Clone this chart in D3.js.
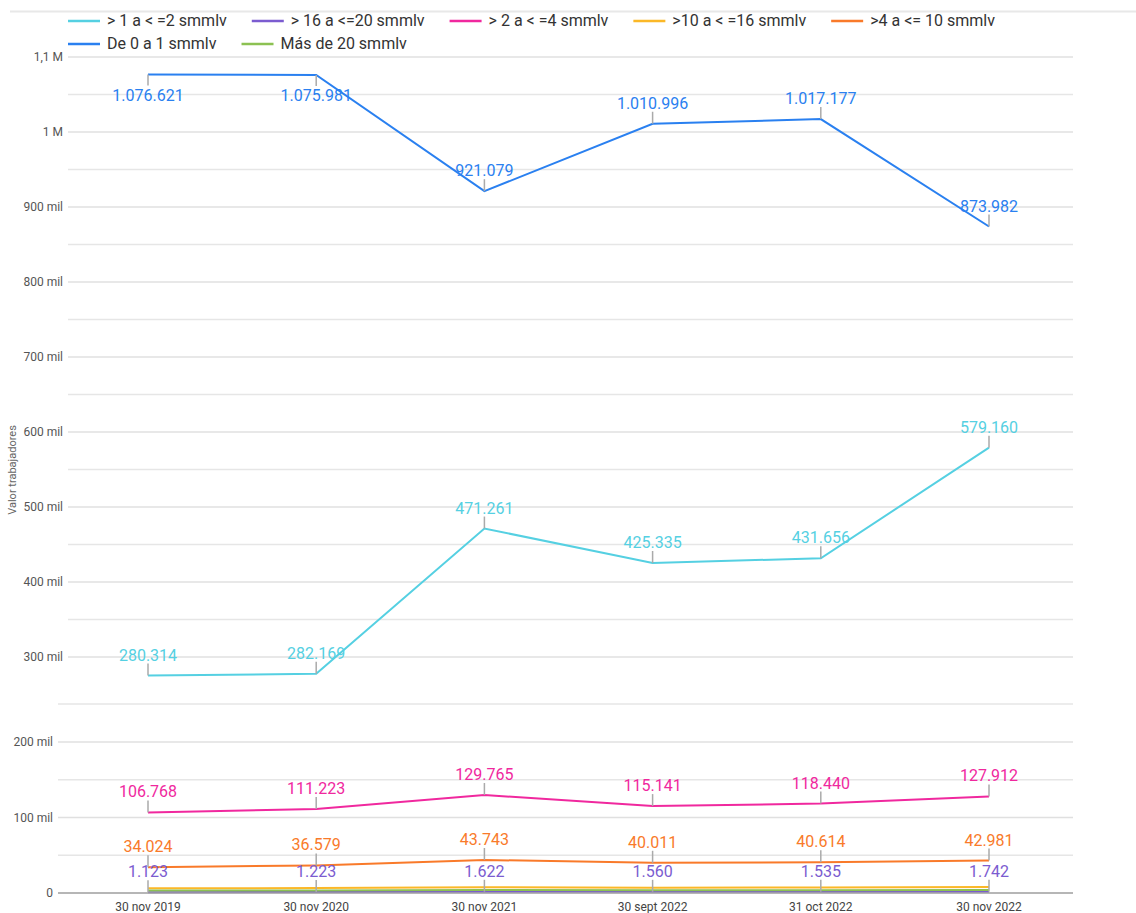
<!DOCTYPE html>
<html>
<head>
<meta charset="utf-8">
<script src="https://cdn.jsdelivr.net/npm/d3@7"></script>
<style>
    body { margin: 0; background: #fff; }
    svg { display: block; font-family: Roboto, "Noto Sans", sans-serif; }
</style>
</head>
<body>
<svg id="chart" width="1136" height="913"></svg>
<script>
// data
var categories = ["30 nov 2019", "30 nov 2020", "30 nov 2021", "30 sept 2022", "31 oct 2022", "30 nov 2022"];

var seriesNames = ["> 1 a < =2 smmlv", "> 16 a <=20 smmlv", "> 2 a < =4 smmlv", ">10 a < =16 smmlv",
		   ">4 a <= 10 smmlv", "De 0 a 1 smmlv", "Más de 20 smmlv"];
var seriesColors = ["#55d0e2", "#7b5cd0", "#f0289e", "#fbb827", "#f97a2a", "#2a80f0", "#8cc152"];

var de1a2 = [280314, 282169, 471261, 425335, 431656, 579160];
var de16a20 = [1123, 1223, 1622, 1560, 1535, 1742];
var de2a4 = [106768, 111223, 129765, 115141, 118440, 127912];
var de10a16 = [6200, 6500, 7600, 7100, 7200, 7800];   // no labels shown, estimated
var de4a10 = [34024, 36579, 43743, 40011, 40614, 42981];
var de0a1 = [1076621, 1075981, 921079, 1010996, 1017177, 873982];
var mas20 = [3300, 3400, 3900, 3700, 3700, 4000];     // no labels shown, estimated

var seriesValues = [de1a2, de16a20, de2a4, de10a16, de4a10, de0a1, mas20];
var labeledSeries = ["> 1 a < =2 smmlv", "> 16 a <=20 smmlv", "> 2 a < =4 smmlv", ">4 a <= 10 smmlv", "De 0 a 1 smmlv"];

var yTicks = [0, 100000, 200000, 300000, 400000, 500000, 600000, 700000, 800000, 900000, 1000000, 1100000];
var yTickLabels = ["0", "100 mil", "200 mil", "300 mil", "400 mil", "500 mil", "600 mil", "700 mil",
		   "800 mil", "900 mil", "1 M", "1,1 M"];
var yMinorTicks = [50000, 150000, 250000, 350000, 450000, 550000, 650000, 750000, 850000, 950000, 1050000];

var svg = d3.select("#chart");
var plotTop = 57, plotBottom = 893, plotRight = 1073;

// the reference axis is not uniform between 200 mil and 300 mil, so the scale is piecewise
var y = d3.scaleLinear()
    .domain([0, 200000, 250000, 300000, 1100000])
    .range([893, 742, 704, 657, plotTop]);
var x = d3.scalePoint().domain(categories).range([148, 989]);

var es = d3.formatLocale({decimal: ",", thousands: ".", grouping: [3], currency: ["", ""]});
var fmt = es.format(",d");

var leftOf = function(v) { return v >= 300000 ? 68 : 58; };

// grid
var grid = svg.append("g");
grid.selectAll(".minor").data(yMinorTicks)
    .enter().append("line")
    .attr("x1", leftOf).attr("x2", plotRight)
    .attr("y1", function(d) { return y(d); }).attr("y2", function(d) { return y(d); })
    .attr("stroke", "#e6e6e6").attr("stroke-width", 1.5);
grid.selectAll(".major").data(yTicks.slice(1))
    .enter().append("line")
    .attr("x1", leftOf).attr("x2", plotRight)
    .attr("y1", function(d) { return y(d); }).attr("y2", function(d) { return y(d); })
    .attr("stroke", "#e0e0e0").attr("stroke-width", 1.5);
grid.selectAll("text").data(yTicks)
    .enter().append("text")
    .attr("x", function(d) { return leftOf(d) - 5; })
    .attr("y", function(d) { return y(d); })
    .attr("dy", "0.35em")
    .attr("text-anchor", "end")
    .attr("font-size", 12)
    .attr("fill", "#555")
    .text(function(d, i) { return yTickLabels[i]; });

svg.append("text")
    .attr("transform", "translate(16,470) rotate(-90)")
    .attr("text-anchor", "middle")
    .attr("font-size", 11)
    .attr("fill", "#666")
    .text("Valor trabajadores");

// top border line above the legend
svg.append("line")
    .attr("x1", 10).attr("x2", 1136).attr("y1", 11.5).attr("y2", 11.5)
    .attr("stroke", "#e8e8e8").attr("stroke-width", 2);

// x axis labels
svg.append("g").selectAll("text").data(categories)
    .enter().append("text")
    .attr("x", function(d) { return x(d); })
    .attr("y", 911)
    .attr("text-anchor", "middle")
    .attr("font-size", 12)
    .attr("fill", "#444")
    .text(function(d) { return d; });

// series
var series = seriesNames.map(function(name, i) {
    return {name: name, color: seriesColors[i], values: seriesValues[i]};
});
var line = d3.line()
    .x(function(d, i) { return x(categories[i]); })
    .y(function(d) { return y(d); });

var lines = svg.append("g");
lines.selectAll("path").data(series)
    .enter().append("path")
    .attr("d", function(d) { return line(d.values); })
    .attr("fill", "none")
    .attr("stroke", function(d) { return d.color; })
    .attr("stroke-width", 2);

// baseline
svg.append("line")
    .attr("x1", 58).attr("x2", plotRight).attr("y1", plotBottom).attr("y2", plotBottom)
    .attr("stroke", "#9e9e9e").attr("stroke-width", 1.5);

// data labels with small leader lines
var labels = svg.append("g");
series.filter(function(s) { return labeledSeries.indexOf(s.name) >= 0; }).forEach(function(s) {
    s.values.forEach(function(v, i) {
	var px = x(categories[i]), py = y(v);
	var below = py - 26 < plotTop;
	var tip = below ? py + 11 : py - 12;
	labels.append("line")
	    .attr("x1", px).attr("x2", px).attr("y1", py).attr("y2", tip)
	    .attr("stroke", "#aaa").attr("stroke-width", 1.5);
	labels.append("text")
	    .attr("x", px)
	    .attr("y", below ? py + 26 : tip - 3)
	    .attr("text-anchor", "middle")
	    .attr("font-size", 16)
	    .attr("fill", s.color)
	    .text(fmt(v));
    });
});

// legend, two rows
var legendRows = [[0, 1, 2, 3, 4], [5, 6]];
var legend = svg.append("g");
legendRows.forEach(function(row, r) {
    var lx = 68, ly = 26 + r * 23;
    row.forEach(function(k) {
	var s = series[k];
	legend.append("line")
	    .attr("x1", lx).attr("x2", lx + 32).attr("y1", ly - 5).attr("y2", ly - 5)
	    .attr("stroke", s.color).attr("stroke-width", 2.5);
	var t = legend.append("text")
	    .attr("x", lx + 39).attr("y", ly)
	    .attr("font-size", 16)
	    .attr("fill", "#333")
	    .text(s.name);
	lx += 39 + t.node().getComputedTextLength() + 25;
    });
});
</script>
</body>
</html>
